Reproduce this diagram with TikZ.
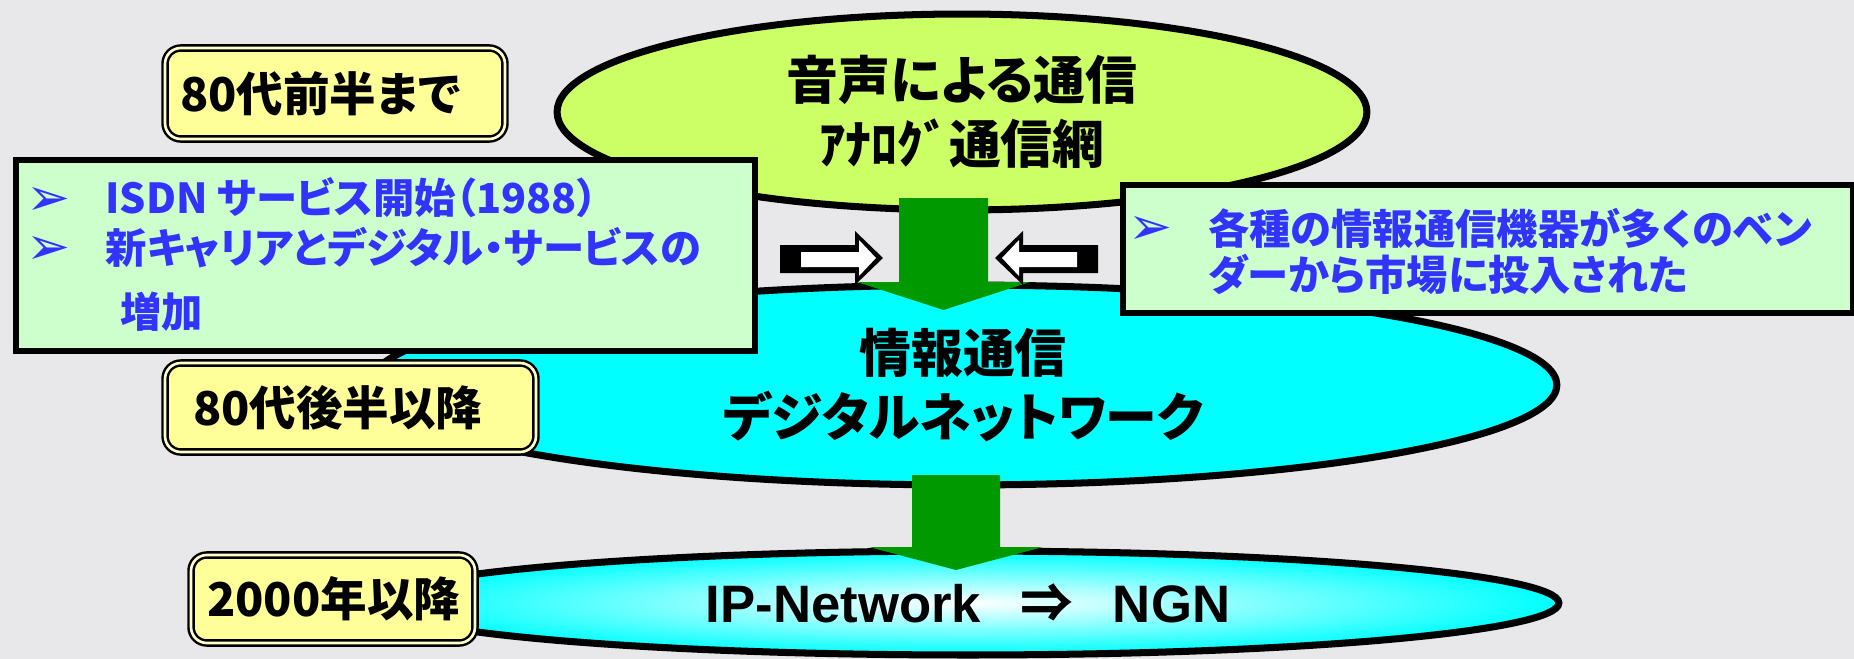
\documentclass[tikz,border=0pt]{standalone}
\usepackage{fontspec}
\setmainfont{Liberation Sans}
\newfontfamily\jp{Noto Sans CJK JP}[RawFeature=+palt]
\newfontfamily\dingfont{DejaVu Sans}
\usetikzlibrary{shapes.geometric}

\definecolor{bggray}{HTML}{E8E8EA}
\definecolor{voicegreen}{HTML}{CCFF66}
\definecolor{netcyan}{HTML}{00FFFF}
\definecolor{arrowgreen}{HTML}{009900}
\definecolor{boxgreen}{HTML}{CCFFCC}
\definecolor{erayellow}{HTML}{FFFF99}
\definecolor{eraedge}{HTML}{FFFFCC}
\definecolor{noteblue}{HTML}{3333FF}

\tikzset{
  stage/.style={ellipse, draw=black, line width=4pt, inner sep=0pt, align=center,
    font=\jp\bfseries\fontsize{29.5}{36.5}\selectfont},
  era/.style={draw=black, line width=1.4pt, double=eraedge, double distance=1.5pt,
    fill=erayellow, rounded corners=9pt, inner ysep=0pt, align=left,
    font=\jp\bfseries\fontsize{26.5}{30}\selectfont},
  infobox/.style={draw=black, line width=3.4pt, fill=boxgreen, inner sep=0pt, anchor=north west},
  note/.style={anchor=west, inner sep=0pt, text=noteblue,
    font=\jp\bfseries\fontsize{23.5}{28}\selectfont},
  bulletmark/.style={anchor=west, inner sep=0pt, text=noteblue,
    font=\dingfont\fontsize{30}{34}\selectfont},
  hollow/.pic={
    \fill[black] (-103,-13) -- (-28,-13) -- (-28,-27) -- (0,0) -- (-28,27) -- (-28,15) -- (-103,15) -- cycle;
    \fill[white] (-82,-6) -- (-24,-6) -- (-24,-18) -- (-7,0) -- (-24,18) -- (-24,9) -- (-82,9) -- cycle;
  }
}

\begin{document}
\begin{tikzpicture}[x=0.02cm, y=-0.02cm]
    \useasboundingbox (0,0) rectangle (1854,659);
    \fill[bggray] (0,0) rectangle (1854,659);

    % stages of the network
    \node[stage, fill=voicegreen, minimum width=16.2cm, minimum height=3.92cm] (voice) at (962,112) {音声による通信\\ｱﾅﾛｸﾞ通信網};
    \node[stage, fill=netcyan, minimum width=23.76cm, minimum height=4cm] (digital) at (963,385) {情報通信\\デジタルネットワーク};
    \node[stage, inner color=white, outer color=netcyan, minimum width=23.64cm, minimum height=2.08cm,
        font=\bfseries\fontsize{30}{34}\selectfont] (ngn) at (968,603) {IP-Network\hspace{0.75em}{\jp ⇒}\hspace{0.75em}NGN};

    % transitions
    \fill[arrowgreen] (899,198) -- (988,198) -- (988,282) -- (1030,282) -- (943.5,310) -- (857,282) -- (899,282) -- cycle;
    \fill[arrowgreen] (912,475) -- (1000,475) -- (1000,547) -- (1043,547) -- (956,570) -- (869,547) -- (912,547) -- cycle;
    \pic at (883,258) {hollow};
    \pic[xscale=-1] at (995,258) {hollow};

    % notes
    \node[infobox, minimum width=14.78cm, minimum height=3.82cm] (isdn) at (13,157) {};
    \node[infobox, minimum width=14.6cm, minimum height=2.56cm] (vendors) at (1120,182) {};
    \node[bulletmark] (b1) at (26,201) {➢};
    \node[note] (l1) at (105,198) {ISDN サービス開始（1988）};
    \node[bulletmark] (b2) at (26,250) {➢};
    \node[note] (l2) at (105,248) {新キャリアとデジタル・サービスの};
    \node[note] (l3) at (120,312) {増加};
    \node[bulletmark] (b3) at (1128,230) {➢};
    \node[note] (v1) at (1208,228) {各種の情報通信機器が多くのベン};
    \node[note] (v2) at (1208,274) {ダーから市場に投入された};

    % periods
    \node[era, minimum width=6.8cm, minimum height=1.82cm, inner xsep=0.3cm, text width=6.2cm] (early) at (335,93.5) {80代前半まで};
    \node[era, minimum width=7.42cm, minimum height=1.78cm, inner xsep=0.56cm, text width=6.3cm] (late) at (350.5,407.5) {80代後半以降};
    \node[era, minimum width=5.68cm, minimum height=1.76cm, inner xsep=0.32cm, text width=5.04cm] (recent) at (333,599) {2000年以降};
\end{tikzpicture}
\end{document}
